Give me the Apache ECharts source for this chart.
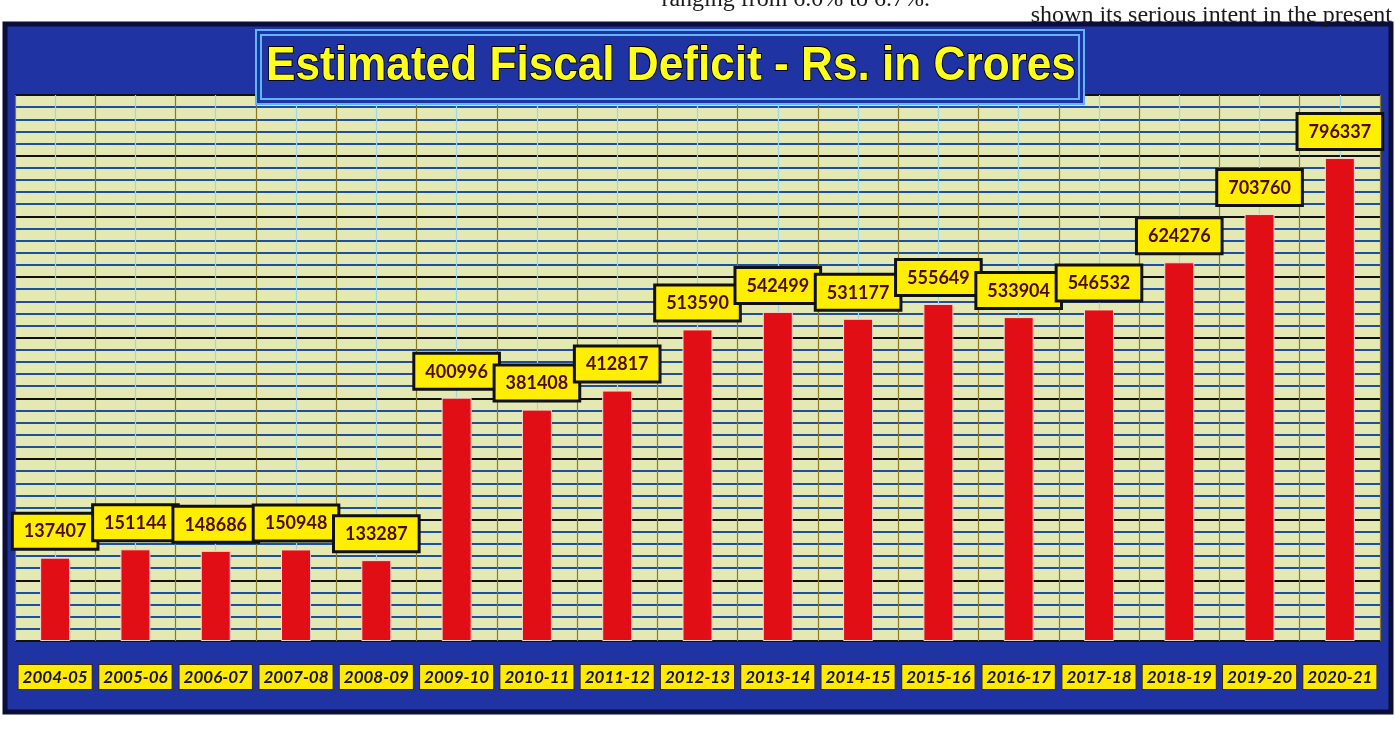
<!DOCTYPE html>
<html>
<head>
<meta charset="utf-8">
<style>
html,body{margin:0;padding:0;background:#ffffff;}
#chart{width:1396px;height:729px;}
</style>
<script src="https://cdn.jsdelivr.net/npm/echarts@6/dist/echarts.min.js"></script>
</head>
<body>
<div id="chart"></div>
<script>
const titleText = 'Estimated Fiscal Deficit - Rs. in Crores';
const pageTextLeft = 'ranging from 6.0% to 6.7%.';
const pageTextRight = 'shown its serious intent in the present';
const years = ['2004-05','2005-06','2006-07','2007-08','2008-09','2009-10','2010-11','2011-12','2012-13','2013-14','2014-15','2015-16','2016-17','2017-18','2018-19','2019-20','2020-21'];
const deficit = [137407,151144,148686,150948,133287,400996,381408,412817,513590,542499,531177,555649,533904,546532,624276,703760,796337];

const chart = echarts.init(document.getElementById('chart'), null, {renderer:'canvas'});
const option = {
  backgroundColor: '#ffffff',
  animation: false,
  graphic: [
    {type:'rect', z:-5, shape:{x:5,y:24,width:1386,height:688}, style:{fill:'#1f33a3', stroke:'#0a0e38', lineWidth:5}},
    {type:'text', z:1, x:930, y:12, style:{text:pageTextLeft, font:'24px "Liberation Serif"', fill:'#1a1a1a', align:'right', verticalAlign:'bottom'}},
    {type:'text', z:1, x:1392, y:28, style:{text:pageTextRight, font:'24px "Liberation Serif"', fill:'#1a1a1a', align:'right', verticalAlign:'bottom'}},
    {type:'rect', z:20, shape:{x:256,y:30,width:828,height:74}, style:{fill:'#1f33a3', stroke:'#5fb6ff', lineWidth:2}},
    {type:'rect', z:21, shape:{x:261,y:35,width:818,height:64}, style:{fill:'none', stroke:'#5fb6ff', lineWidth:2}},
    {type:'text', z:22, x:671, y:67, scaleX:0.92, style:{text:titleText, font:'bold 48px "Liberation Sans"', fill:'#ffff1e', stroke:'#000000', lineWidth:2, align:'center', verticalAlign:'middle', textShadowColor:'#000000', textShadowOffsetX:2, textShadowOffsetY:2, textShadowBlur:0}}
  ],
  grid: {left:15, right:16, top:95, bottom:88, show:true, backgroundColor:'#e4e9b3', borderWidth:0},
  xAxis: [
    {type:'category', data:years,
     axisLine:{show:false}, axisTick:{show:false}, splitLine:{show:false},
     axisLabel:{interval:0, margin:24, fontFamily:'Lato', fontStyle:'italic', fontWeight:'bold', fontSize:17, color:'#15122a',
       backgroundColor:'#ffea00', borderColor:'#3b2c00', borderWidth:1, padding:[4,4,3,4]}},
    {type:'value', min:0, max:34, interval:1, position:'bottom',
     axisLine:{show:false}, axisTick:{show:false}, axisLabel:{show:false},
     splitLine:{show:true, lineStyle:{color:['#857a2a','#9ad6f0'], width:1.2}}}
  ],
  yAxis: {type:'value', min:0, max:900000, interval:20000,
    axisLine:{show:false}, axisTick:{show:false}, axisLabel:{show:false},
    splitLine:{show:true, lineStyle:{color:['#101010','#1e4e9e','#1e4e9e','#1e4e9e','#1e4e9e'], width:2}}},
  series: [{
    type:'bar', xAxisIndex:0, yAxisIndex:0, data:deficit, barWidth:30, z:5,
    itemStyle:{color:'#e20e16', borderColor:'#f7dcd0', borderWidth:1},
    label:{show:true, position:'top', distance:10, fontFamily:'Lato', fontWeight:'bold', fontSize:18, color:'#4e0a00',
      backgroundColor:'#ffee00', borderColor:'#111111', borderWidth:3, padding:[8,10,7,10]}
  }]
};
chart.setOption(option);
</script>
</body>
</html>
